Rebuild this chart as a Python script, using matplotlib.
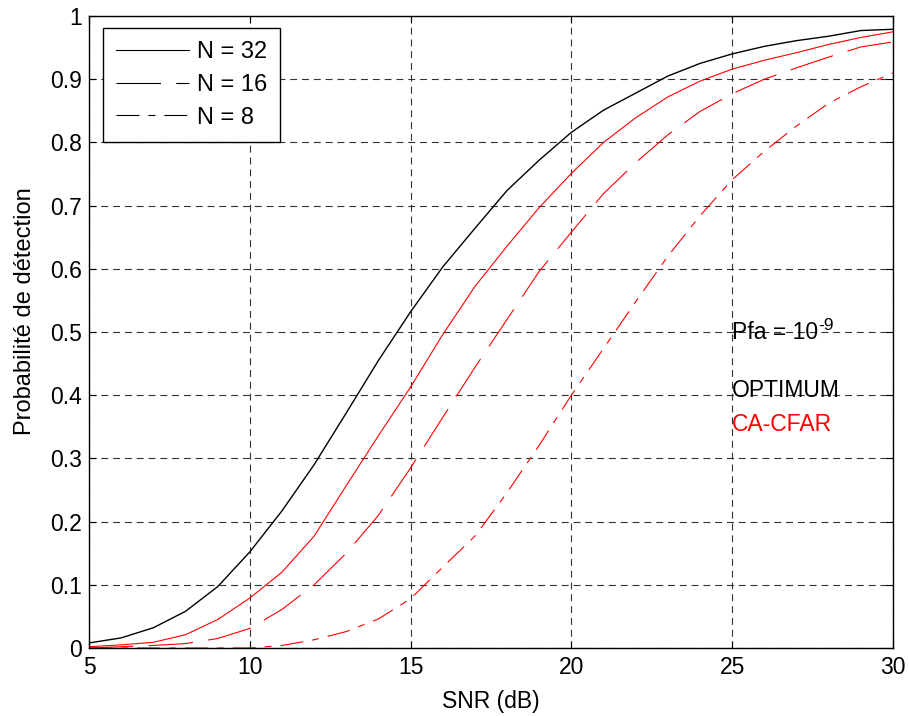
import matplotlib
matplotlib.use("Agg")
import matplotlib.pyplot as plt
from matplotlib.lines import Line2D

plt.rcParams['font.family'] = ['Liberation Sans', 'DejaVu Sans']
plt.rcParams['lines.scale_dashes'] = False

# SNR in dB
snr = [5, 6, 7, 8, 9, 10, 11, 12, 13, 14, 15, 16, 17, 18, 19, 20,
       21, 22, 23, 24, 25, 26, 27, 28, 29, 30]

# Optimum detector, detection probability
pd_optimum = [0.008, 0.016, 0.032, 0.058, 0.097, 0.152, 0.217, 0.290, 0.372, 0.455,
              0.532, 0.603, 0.664, 0.724, 0.772, 0.816, 0.851, 0.878, 0.905, 0.925,
              0.940, 0.952, 0.961, 0.968, 0.977, 0.979]

# CA-CFAR detector, reference cells N = 32, 16, 8
pd_cfar_32 = [0.002, 0.005, 0.009, 0.021, 0.045, 0.079, 0.120, 0.177, 0.257, 0.336,
              0.413, 0.496, 0.572, 0.636, 0.697, 0.751, 0.800, 0.839, 0.872, 0.897,
              0.916, 0.930, 0.942, 0.955, 0.966, 0.975]
pd_cfar_16 = [0.000, 0.002, 0.004, 0.007, 0.015, 0.031, 0.061, 0.100, 0.150, 0.210,
              0.285, 0.365, 0.444, 0.520, 0.596, 0.658, 0.719, 0.768, 0.812, 0.849,
              0.877, 0.900, 0.918, 0.935, 0.951, 0.959]
pd_cfar_8 = [0.000, 0.000, 0.000, 0.000, 0.000, 0.000, 0.004, 0.013, 0.026, 0.046,
             0.078, 0.128, 0.177, 0.246, 0.321, 0.400, 0.474, 0.548, 0.620, 0.684,
             0.741, 0.786, 0.826, 0.862, 0.888, 0.910]

legend_labels = ['N = 32', 'N = 16', 'N = 8']
x_ticks = [5, 10, 15, 20, 25, 30]
y_ticks = [0, 0.1, 0.2, 0.3, 0.4, 0.5, 0.6, 0.7, 0.8, 0.9, 1]
y_tick_labels = ['0', '0.1', '0.2', '0.3', '0.4', '0.5', '0.6', '0.7', '0.8', '0.9', '1']

FS = 16.5
dash_16 = (0, (32, 11))
dash_8 = (0, (16.5, 6.5, 5, 6.5))

fig = plt.figure(figsize=(9.09, 7.16), dpi=100)
ax = fig.add_axes([89 / 909, 68 / 716, 804 / 909, 632 / 716])

ax.plot(snr, pd_optimum, color='black', lw=1.0)
ax.plot(snr, pd_cfar_32, color='red', lw=0.8)
ax.plot(snr, pd_cfar_16, color='red', lw=0.8, linestyle=dash_16)
ax.plot(snr, pd_cfar_8, color='red', lw=0.8, linestyle=dash_8)

ax.set_xlim(5, 30)
ax.set_ylim(0, 1)
ax.set_xticks(x_ticks)
ax.set_xticklabels([str(v) for v in x_ticks])
ax.set_yticks(y_ticks)
ax.set_yticklabels(y_tick_labels)
ax.tick_params(direction='in', length=5, width=0.8, top=True, right=True,
               labelsize=FS, colors='black')
ax.tick_params(axis='x', pad=6)
ax.tick_params(axis='y', pad=5)
for sp in ax.spines.values():
    sp.set_linewidth(1.0)
    sp.set_color('black')

ax.grid(True, color='0.2', lw=0.8, linestyle=(0, (5, 3.5)))
ax.set_axisbelow(True)

ax.set_xlabel('SNR (dB)', fontsize=FS, labelpad=8)
ax.set_ylabel('Probabilité de détection', fontsize=17)
ax.yaxis.set_label_coords(-0.066, 0.533)

handles = [Line2D([], [], color='black', lw=0.8),
           Line2D([], [], color='black', lw=0.8, linestyle=dash_16),
           Line2D([], [], color='black', lw=0.8, linestyle=dash_8)]
leg = ax.legend(handles, legend_labels, loc='upper left',
                bbox_to_anchor=(0.0174, 0.981), borderaxespad=0,
                fontsize=17, handlelength=3.1, handletextpad=0.34,
                labelspacing=0.46, borderpad=0.55, fancybox=False,
                framealpha=1, edgecolor='black')
leg.get_frame().set_linewidth(1.0)

pfa = ax.text(25, 0.5, 'Pfa = 10', fontsize=FS, va='center', ha='left',
              color='black')
ax.annotate('-9', xy=(1, 0), xycoords=pfa, xytext=(0.3, 10),
            textcoords='offset points', fontsize=12.5, va='baseline',
            ha='left', color='black')
ax.text(25, 0.407, 'OPTIMUM', fontsize=FS, va='center', ha='left', color='black')
ax.text(25, 0.353, 'CA-CFAR', fontsize=FS, va='center', ha='left', color='red')

fig.savefig('out.png', dpi=100)
